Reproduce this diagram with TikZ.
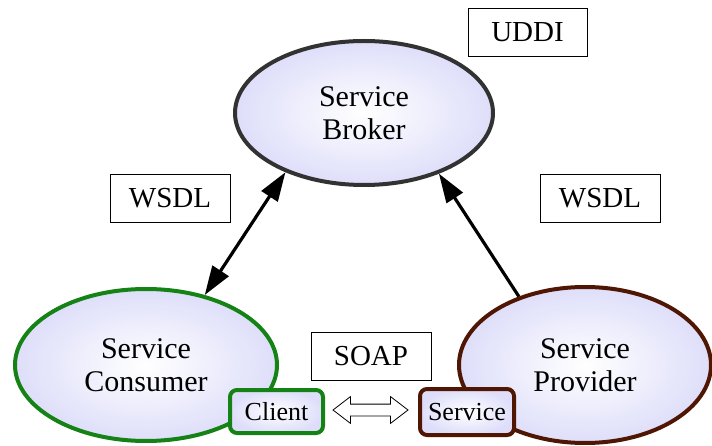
\documentclass[tikz,border=0pt]{standalone}
\usepackage{fontspec}
\setmainfont{Liberation Serif}
\usetikzlibrary{arrows.meta,shapes.geometric,shapes.arrows}
\definecolor{lav}{RGB}{222,222,250}
\definecolor{brokerc}{RGB}{50,50,50}
\definecolor{consc}{RGB}{20,130,20}
\definecolor{provc}{RGB}{80,22,4}
\tikzset{
  role/.style={ellipse, inner sep=0pt, line width=4pt, shading=radial,
    inner color=white, outer color=lav, align=center,
    font=\fontsize{30}{33}\selectfont},
  part/.style={rectangle, rounded corners=7pt, line width=4pt, shading=radial,
    inner color=white, outer color=lav, inner sep=0pt,
    font=\fontsize{26}{30}\selectfont},
  tag/.style={rectangle, draw=black, line width=0.8pt, fill=white, inner sep=0pt,
    minimum width=119pt, minimum height=48pt, font=\fontsize{29}{33}\selectfont},
  link/.style={line width=3.2pt, black},
  bighead/.tip={Triangle[length=29pt, width=19pt]},
}
\begin{document}
\begin{tikzpicture}[x=1pt, y=-1pt]
\useasboundingbox (0,0) rectangle (712,446);
% role ellipses
\node[role, draw=brokerc, minimum width=258pt, minimum height=144pt] (broker) at (364,113) {Service\\Broker};
\node[role, draw=consc, minimum width=262pt, minimum height=152pt] (consumer) at (146,365) {Service\\Consumer};
\node[role, draw=provc, minimum width=252pt, minimum height=156pt] (provider) at (585,365) {Service\\Provider};
% parts
\node[part, draw=consc, minimum width=93pt, minimum height=43pt] (client) at (276.5,411.5) {Client};
\node[part, draw=provc, minimum width=94pt, minimum height=46pt] (service) at (467,412) {Service};
% tags
\node[tag] (uddi) at (527.5,32) {UDDI};
\node[tag, minimum width=120pt] (wsdlA) at (170,198) {WSDL};
\node[tag, minimum width=120pt] (wsdlB) at (600,198.5) {WSDL};
\node[tag, minimum width=120pt] (soap) at (371,356) {SOAP};
% connectors
\draw[link, bighead-bighead] (consumer.50) -- (broker.217);
\draw[link, -bighead] (provider.134) -- (broker.321);
\node[double arrow, draw=black, line width=0.8pt, fill=white, inner xsep=0pt,
  inner ysep=5.5pt, minimum height=75pt, double arrow head extend=7.5pt,
  double arrow tip angle=75] (soaparrow) at (370.5,410) {};
\end{tikzpicture}
\end{document}
